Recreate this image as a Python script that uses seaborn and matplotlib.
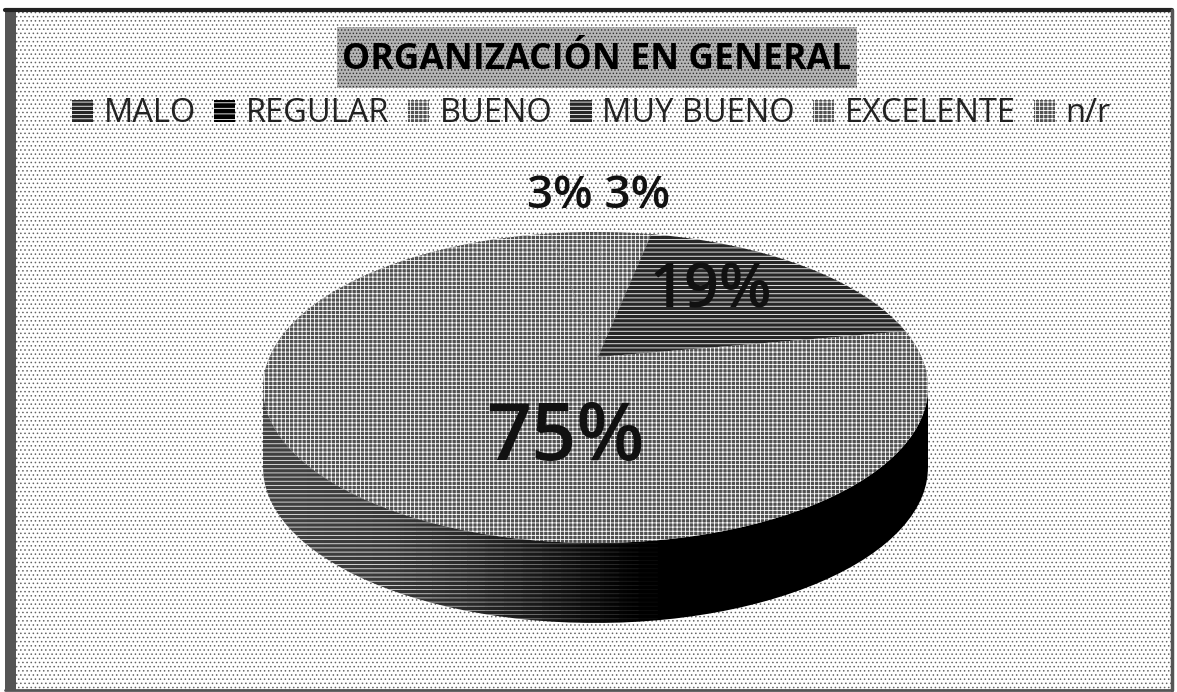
import numpy as np
import matplotlib
matplotlib.use('Agg')
import matplotlib.pyplot as plt
from matplotlib.patches import Circle, PathPatch, Rectangle
from matplotlib.path import Path
import seaborn as sns

# Data
categories = ['MALO', 'REGULAR', 'BUENO', 'MUY BUENO', 'EXCELENTE', 'n/r']
values = [3, 3, 19, 75, 0, 0]
title = 'ORGANIZACIÓN EN GENERAL'

W, H = 1177, 692

sns.set_theme(style='white')
plt.rcParams['font.family'] = ['Open Sans', 'DejaVu Sans']
plt.rcParams['hatch.linewidth'] = 0.6

fig = plt.figure(figsize=(W / 100, H / 100), dpi=100, facecolor='white')

# Full page axes in pixel coordinates for the frame and texts
bg = fig.add_axes([0, 0, 1, 1])
bg.set_xlim(0, W)
bg.set_ylim(H, 0)
bg.axis('off')
bg.add_patch(Rectangle((10, 10), 1163, 680, facecolor='white', edgecolor='#666666',
                       hatch='....', linewidth=0))
bg.add_patch(Rectangle((5, 10), 11, 680, facecolor='#555555', edgecolor='none'))
bg.plot([5, 1172], [10, 10], color='#222222', lw=3)
bg.plot([1172, 1172], [10, 690], color='#555555', lw=2.5)
bg.plot([5, 1172], [690, 690], color='#555555', lw=2)

# Pie axes: the unit circle is stretched to the ellipse of the top face
px0, px1, py0, py1 = 263, 928, 232, 543
ax = fig.add_axes([px0 / W, 1 - py1 / H, (px1 - px0) / W, (py1 - py0) / H])
ax.patch.set_alpha(0)

# The perspective moves the pie's apex above the middle of the ellipse, so the
# wedges are drawn oversized around that apex and cut back to the ellipse
slice_colors = sns.color_palette(['#505050', '#505050', '#262626', '#505050', '#505050', '#505050'])
wedges, _ = ax.pie(values, colors=slice_colors, startangle=100.15, counterclock=False,
                   center=(0.0075, 0.196), radius=2,
                   wedgeprops=dict(linewidth=0, edgecolor='white'))
ellipse = Circle((0, 0), 1, transform=ax.transData)
for w, v in zip(wedges, values):
    w.set_hatch('----' if v == 19 else '++++')
    w.set_zorder(4)
    w.set_clip_on(True)
    w.set_clip_path(ellipse)
ax.set_aspect('auto')

# Side wall of the pie, shaded from grey on the left to black on the right
depth = 2 * 80 / (py1 - py0)


def wall_path(t_from, t_to):
    t = np.linspace(t_from, t_to, 60)
    x, y = np.cos(t), np.sin(t)
    return Path(np.vstack([np.c_[x, y - depth], np.c_[x[::-1], y[::-1]]]))


clip = PathPatch(wall_path(np.pi, 2 * np.pi), transform=ax.transData, facecolor='none', edgecolor='none')
ax.add_patch(clip)
clip.set_clip_on(False)
shade = np.array([[0.8, 0.82, 0.86, 0.93, 1.0, 1.0, 1.0, 1.0]])
im = ax.imshow(shade, cmap=sns.color_palette('Greys', as_cmap=True), vmin=0, vmax=1,
               extent=(-1, 1, -1 - depth, 1), aspect='auto', interpolation='bilinear', zorder=2)
im.set_clip_box(fig.bbox)
im.set_clip_path(clip)

# White scan lines on the lighter, left part of the wall, fading towards the black end
lines = PathPatch(wall_path(np.pi, 1.3 * np.pi), transform=ax.transData, facecolor='none',
                  edgecolor=(1, 1, 1, 0.9), hatch='----', linewidth=0, zorder=3)
ax.add_patch(lines)
lines.set_clip_on(False)
steps = np.linspace(1.3, 1.56, 15)
for t0, t1, strength in zip(steps[:-1], steps[1:], np.linspace(0.85, 0.05, 14)):
    lines = PathPatch(wall_path(t0 * np.pi, t1 * np.pi), transform=ax.transData, facecolor='none',
                      edgecolor=(1, 1, 1, strength), hatch='----', linewidth=0, zorder=3)
    ax.add_patch(lines)
    lines.set_clip_on(False)

ax.set_xlim(-1, 1)
ax.set_ylim(-1, 1)

# Percent labels
ax.text(0.01, 1.23, f'{values[0]}% {values[1]}%', ha='center', va='center',
        fontsize=33, fontweight='semibold', color='#111111', zorder=5)
ax.text(0.345, 0.62, f'{values[2]}%', ha='center', va='center', fontsize=44,
        fontweight='semibold', color='#111111', zorder=5)
ax.text(-0.09, -0.33, f'{values[3]}%', ha='center', va='center', fontsize=57,
        fontweight='semibold', color='#111111', zorder=5)

# Title with its grey box
bg.add_patch(Rectangle((337, 27), 520, 61, facecolor='#b5b5b5', edgecolor='#333333',
                       hatch='.....', linewidth=0))
bg.text(597, 60, title, ha='center', va='center', fontsize=25.6, fontweight='bold', color='black')

leg = fig.legend(wedges, categories, ncol=6, loc='center', bbox_to_anchor=(591.5 / W, 1 - 114 / H),
                 frameon=False, fontsize=23.5, handlelength=0.65, handleheight=0.65,
                 handletextpad=0.33, columnspacing=0.55, borderpad=0)
handle_fill = ['#262626', '#000000', '#505050', '#262626', '#505050', '#505050']
handle_hatch = ['----', '---', '++++', '----', '++++', '++++']
for h, fc, ht in zip(leg.legend_handles, handle_fill, handle_hatch):
    h.set_facecolor(fc)
    h.set_hatch(ht)
    h.set_clip_on(False)
for txt in leg.get_texts():
    txt.set_color('#222222')

fig.savefig('out.png', dpi=100)
